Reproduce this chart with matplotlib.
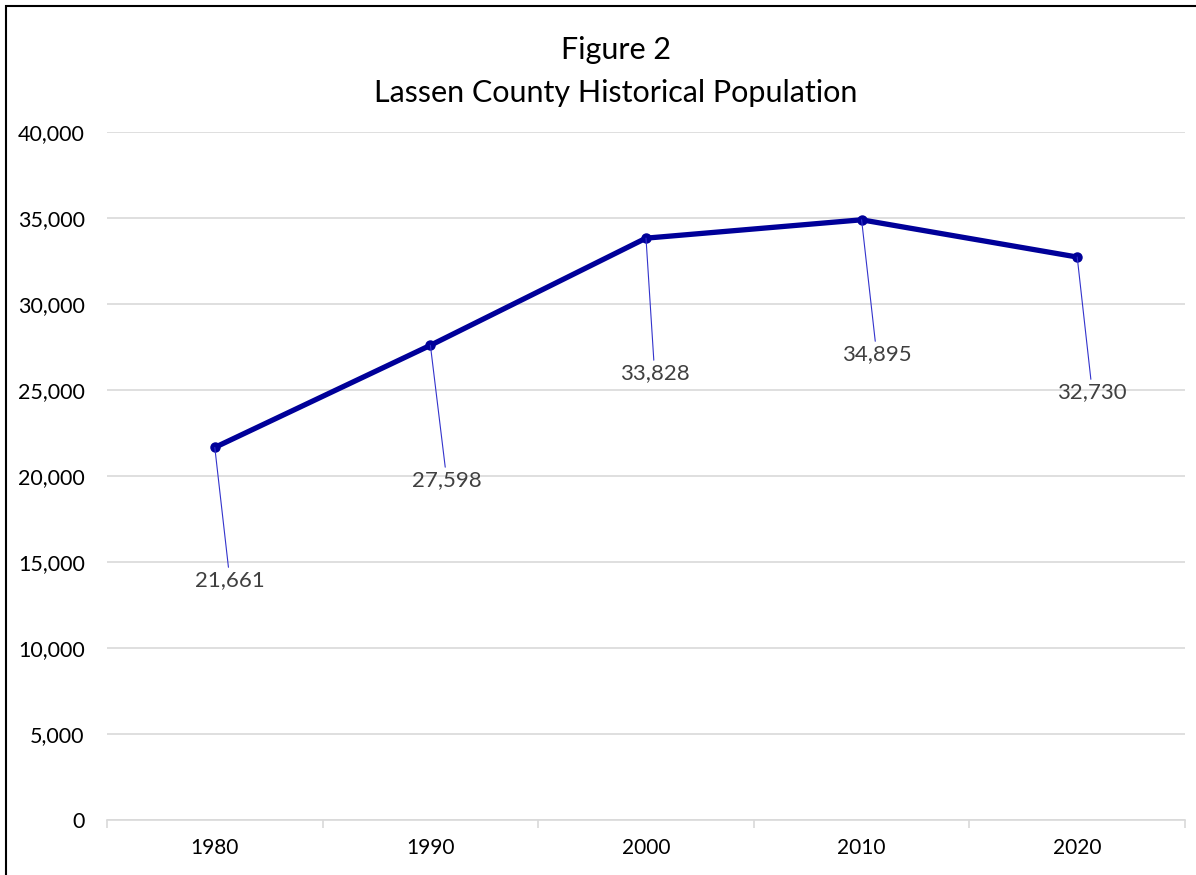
import matplotlib.pyplot as plt
from matplotlib.patches import Rectangle
from matplotlib.ticker import FuncFormatter

years = ["1980", "1990", "2000", "2010", "2020"]
population = [21661, 27598, 33828, 34895, 32730]
# label positions (category index, value)
label_x = [0.07, 1.076, 2.04, 3.07, 4.07]
label_y = [13950, 19770, 25990, 27090, 24880]

plt.rcParams['font.family'] = ['Lato', 'DejaVu Sans']

fig = plt.figure(figsize=(11.96, 8.75), dpi=100)
ax = fig.add_axes([107 / 1196, 1 - 820 / 875, 1078 / 1196, 688 / 875])

xs = list(range(len(years)))
ax.plot(xs, population, color='#000099', linewidth=3.8, marker='o',
        markersize=6.5, solid_capstyle='round', zorder=3)

for x, y, tx, ty in zip(xs, population, label_x, label_y):
    ax.annotate(f"{y:,}", xy=(x, y), xytext=(tx, ty), ha='center', va='center',
                fontsize=16, color='#404040',
                arrowprops=dict(arrowstyle='-', color='#3333cc', lw=0.8,
                                shrinkA=0, shrinkB=0))

ax.set_xlim(-0.5, 4.5)
ax.set_ylim(0, 40000)
ax.set_yticks(range(0, 40001, 5000))
ax.yaxis.set_major_formatter(FuncFormatter(lambda v, p: f"{int(v):,}"))
ax.set_xticks(xs)
ax.set_xticklabels(years)
ax.set_xticks([i - 0.5 for i in range(len(years) + 1)], minor=True)

ax.grid(axis='y', color='#d9d9d9', linewidth=1.2)
ax.set_axisbelow(True)
for s in ['top', 'right', 'left']:
    ax.spines[s].set_visible(False)
ax.spines['bottom'].set_color('#d9d9d9')
ax.spines['bottom'].set_linewidth(1.2)

ax.tick_params(axis='y', length=0, pad=16, labelsize=15.5, labelcolor='#000000')
ax.tick_params(axis='x', which='major', length=0, pad=13, labelsize=15)
ax.tick_params(axis='x', which='minor', length=6, width=1.2, color='#d9d9d9')

fig.text(616 / 1196, 1 - 50 / 875, "Figure 2", ha='center', va='center', fontsize=22)
fig.text(616 / 1196, 1 - 93 / 875, "Lassen County Historical Population",
         ha='center', va='center', fontsize=22)

# frame: only left and top edges are visible in the original
fig.patches.append(Rectangle((6 / 1196, -0.01), 1.05, 1 - 6 / 875 + 0.01,
                             transform=fig.transFigure, fill=False,
                             edgecolor='black', linewidth=1.5))

fig.savefig('out.png', dpi=100)
